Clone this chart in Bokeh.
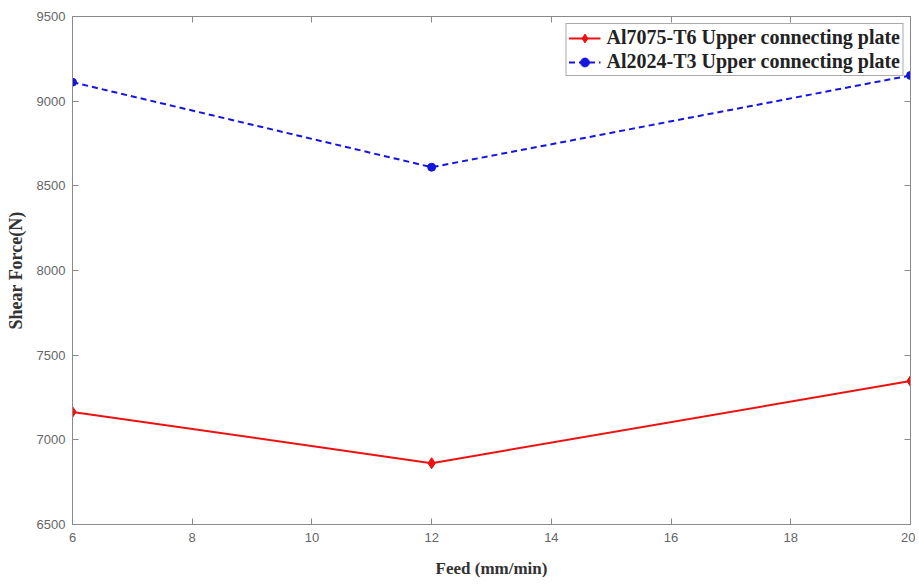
from bokeh.plotting import figure
from bokeh.models import LinearAxis, Range1d, FixedTicker, Legend, LegendItem
from bokeh.embed import file_html
from bokeh.resources import INLINE

feed = [6, 12, 20]
al7075 = [7165, 6862, 7347]
al2024 = [9112, 8610, 9152]
x_ticks = [6, 8, 10, 12, 14, 16, 18, 20]
y_ticks = [6500, 7000, 7500, 8000, 8500, 9000, 9500]

p = figure(width=915, height=580, output_backend="svg", toolbar_location=None,
           x_range=Range1d(6, 20), y_range=Range1d(6500, 9500),
           min_border_left=72, min_border_right=5, min_border_top=16, min_border_bottom=56)
p.xgrid.visible = False
p.ygrid.visible = False
p.outline_line_color = "#8a8a8a"
p.background_fill_color = "white"
p.border_fill_color = "white"

tick_font = "Liberation Sans"
for ax in [p.xaxis[0], p.yaxis[0]]:
    ax.axis_line_color = "#8a8a8a"
    ax.major_tick_line_color = "#8a8a8a"
    ax.minor_tick_line_color = None
    ax.major_tick_in = 6
    ax.major_tick_out = 0
    ax.major_label_text_font = tick_font
    ax.major_label_text_font_size = "13px"
    ax.major_label_text_color = "#666666"
    ax.axis_label_text_font = "Liberation Serif"
    ax.axis_label_text_font_style = "bold"
    ax.axis_label_text_font_size = "17px"
    ax.axis_label_text_color = "#333333"
p.xaxis[0].ticker = FixedTicker(ticks=x_ticks)
p.yaxis[0].ticker = FixedTicker(ticks=y_ticks)
p.xaxis[0].axis_label = "Feed (mm/min)"
p.yaxis[0].axis_label = "Shear Force(N)"
p.yaxis[0].axis_label_text_font_size = "18px"
p.xaxis[0].major_label_standoff = 8
p.yaxis[0].major_label_standoff = 7
p.xaxis[0].axis_label_standoff = 14
p.yaxis[0].axis_label_standoff = 8

for loc, ticks in [("above", x_ticks), ("right", y_ticks)]:
    ax = LinearAxis(ticker=FixedTicker(ticks=ticks))
    ax.axis_line_color = "#8a8a8a"
    ax.major_tick_line_color = "#8a8a8a"
    ax.minor_tick_line_color = None
    ax.major_tick_in = 6
    ax.major_tick_out = 0
    ax.major_label_text_font_size = "0px"
    ax.major_label_standoff = 0
    p.add_layout(ax, loc)

r1 = p.line(feed, al7075, line_color="#ee1111", line_width=2)
s1 = p.scatter(feed, al7075, marker="diamond", size=11, fill_color="#ee1111", line_color="#ee1111")
r2 = p.line(feed, al2024, line_color="#1515dd", line_width=2, line_dash="6 4")
s2 = p.scatter(feed, al2024, marker="circle", size=8, fill_color="#1515dd", line_color="#1515dd")

legend = Legend(items=[
    LegendItem(label="Al7075-T6 Upper connecting plate", renderers=[r1, s1]),
    LegendItem(label="Al2024-T3 Upper connecting plate", renderers=[r2, s2]),
], location="top_right")
legend.margin = 7
legend.padding = 2
legend.spacing = 1
legend.glyph_width = 32
legend.glyph_height = 22
legend.label_height = 22
legend.label_standoff = 6
legend.label_text_font = "Liberation Serif"
legend.label_text_font_style = "bold"
legend.label_text_font_size = "20px"
legend.label_text_color = "#222222"
legend.border_line_color = "#555555"
legend.border_line_width = 1
legend.background_fill_alpha = 1
p.add_layout(legend)

open("out.html", "w").write(file_html(p, INLINE))
